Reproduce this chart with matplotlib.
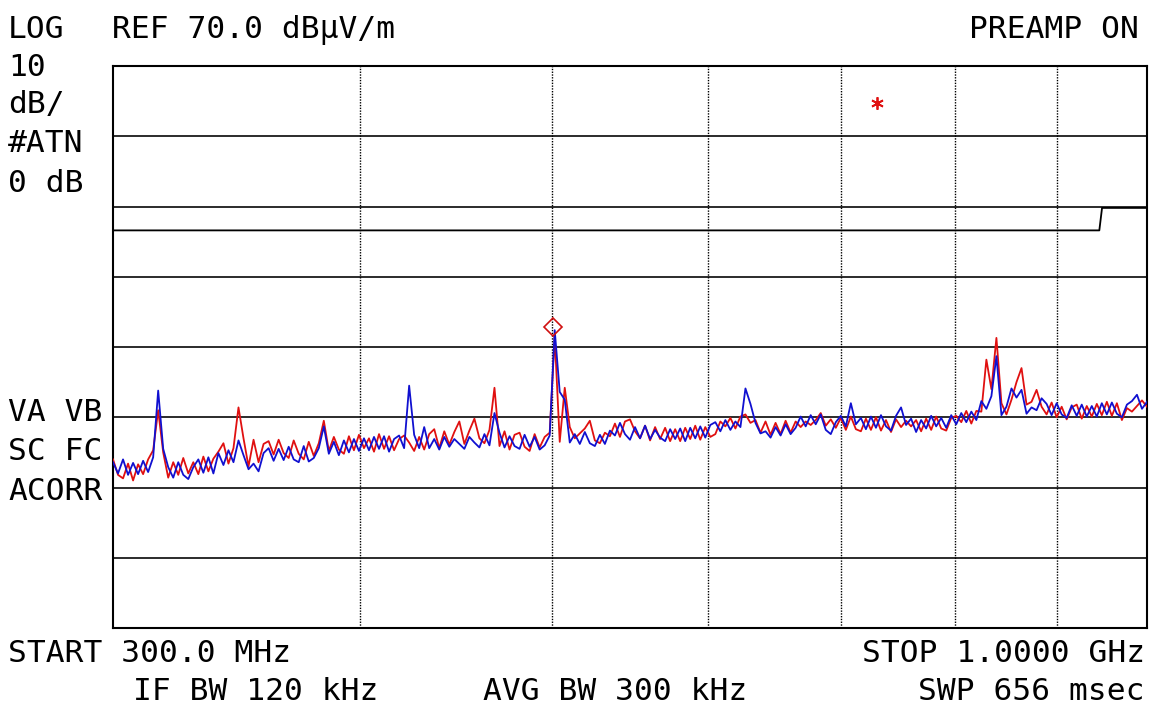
import numpy as np
import matplotlib
matplotlib.use("Agg")
import matplotlib.pyplot as plt

# ---- data ----
f_start, f_stop = 300.0, 1000.0          # MHz
ref_level, db_per_div, n_div = 70.0, 10.0, 8
vgrid_freqs = [400, 500, 600, 700, 800, 900]

trace_blue = [
    13.6, 12.0, 14.0, 11.8, 13.5, 11.9, 13.8, 12.2, 14.3,
    23.8, 15.5,
    12.9, 11.4, 13.6, 11.8, 11.2, 12.9,
    14.0, 12.1, 14.3, 12.0,
    14.9, 13.2, 15.3, 13.6,
    16.7, 14.6,
    12.6, 13.4, 12.3, 14.9,
    15.6, 13.8, 15.5, 13.9, 15.8, 14.0, 13.6, 15.9, 13.7, 14.2, 15.6,
    18.7,
    14.8, 16.5, 14.6, 16.7, 15.0, 16.9, 15.2, 17.0,
    15.3, 17.2, 15.5, 17.3, 15.1, 16.9, 17.4, 15.6,
    24.5, 17.5, 15.6, 18.6,
    15.6, 16.9, 15.4, 17.2, 15.8, 16.9,
    16.2, 15.5, 17.2, 16.4,
    15.7, 17.6, 16.0,
    20.6,
    17.8, 15.7, 17.3, 15.9, 15.5, 17.5, 15.8, 17.2, 15.4, 16.0, 17.4,
    32.4, 23.6, 22.5, 16.4,
    17.6, 16.2, 17.9, 16.3, 15.9, 17.5, 16.2,
    18.1, 17.4, 19.2, 17.6, 16.8,
    18.6, 17.0, 18.8, 16.9, 18.2, 17.1, 16.6, 18.3,
    16.9, 18.4, 16.6, 18.5, 17.0, 18.7, 17.1, 18.9,
    19.3, 18.0, 19.6, 18.2, 19.4, 18.6,
    24.1, 21.9,
    19.2, 17.7, 18.0, 17.1, 18.6, 17.4, 19.0, 17.6, 18.5,
    20.1, 18.7, 20.3, 19.0, 20.4, 18.2, 17.6, 19.3, 20.2,
    18.7, 22.0, 19.0,
    19.9, 18.3, 20.1, 18.5, 20.3, 18.7, 18.1, 20.2,
    21.4,
    18.9, 19.8, 17.9, 19.6, 18.4, 20.2, 18.7, 19.9, 18.5, 20.3, 19.0,
    20.6, 19.3, 20.8, 19.6,
    22.3, 21.2, 23.0, 28.7, 20.3, 21.5, 24.1, 22.8, 23.9, 20.5, 21.4, 21.0, 22.7,
    21.9, 20.3, 22.0, 20.4, 19.9, 21.7, 20.2, 21.8, 20.1,
    21.6, 20.1, 22.0, 20.4, 22.1, 20.5,
    20.0, 21.8, 22.3, 23.2, 21.2, 22.2,
]

trace_red = [
    14.0, 11.8, 11.3, 13.4, 11.0, 13.3, 11.9, 14.0, 15.3,
    21.0, 15.0,
    11.4, 13.6, 11.8, 14.2, 12.0, 13.6,
    11.9, 14.4, 12.3, 14.1,
    15.1, 16.3, 13.4, 15.6,
    21.4, 17.0,
    13.0, 16.8, 13.6, 16.2,
    16.6, 14.7, 16.8, 14.9, 14.2, 16.7, 14.8, 14.0, 16.5, 14.5, 16.3,
    19.5,
    15.2, 17.2, 15.4, 14.8, 17.3, 15.3, 17.5, 15.6,
    17.0, 15.1, 17.6, 15.5, 17.3, 15.3, 16.9, 17.4,
    16.4, 15.2, 17.2, 15.4,
    17.6, 18.3, 15.6, 18.0, 16.1, 17.9,
    19.4, 16.2, 18.1, 19.8,
    17.0, 16.3, 18.2,
    24.2,
    15.9, 18.0, 15.4, 17.5, 17.8, 15.8, 15.2, 17.6, 15.7, 17.2, 17.8,
    31.5, 16.5, 24.2, 18.6,
    17.0, 17.7, 18.4, 19.5, 16.7, 16.3, 17.8,
    17.3, 19.1, 17.2, 19.4, 19.7,
    18.0, 17.0, 18.8, 16.7, 18.6, 16.9, 18.5, 16.6,
    18.3, 16.6, 18.5, 16.9, 18.8, 16.8, 18.6, 17.2,
    17.6, 19.4, 18.7, 19.9, 18.4, 20.1,
    20.4, 19.2,
    19.6, 17.8, 19.4, 17.5, 19.2, 17.6, 19.5, 17.8, 19.4,
    18.6, 19.4, 18.9, 19.6, 20.6, 18.8, 19.7, 18.5, 19.9,
    18.2, 20.1, 18.3,
    18.0, 19.8, 18.2, 20.0, 18.1, 19.6, 17.9, 19.7,
    18.6,
    19.5, 18.7, 19.6, 18.0, 19.8, 18.2, 20.1, 18.4, 18.1, 19.9, 20.2,
    19.3, 20.9, 19.1, 20.9,
    20.8, 28.2, 24.0, 31.3, 22.0, 20.4, 22.5, 25.0, 27.0, 21.8, 22.2, 23.9, 21.5,
    20.4, 22.1, 20.0, 21.5, 19.7, 21.4, 21.8, 19.8, 21.6,
    20.1, 21.9, 20.3, 22.2, 20.2, 22.0,
    19.6, 21.3, 20.8, 21.6, 22.4, 21.5,
]

limit_freqs = [300, 946, 949, 1000]
limit_levels = [46.6, 46.6, 49.8, 49.8]

marker_freq, marker_level = 500.5, 32.8
star_freq, star_level = 730.0, 64.7

# ---- figure ----
W, H = 1149, 706
fig = plt.figure(figsize=(W / 100, H / 100), dpi=100)
fig.patch.set_facecolor("white")
ax = fig.add_axes([113 / W, 1 - 628 / H, 1034 / W, 562 / H])
ax.set_xscale("log")
bottom = ref_level - n_div * db_per_div
ax.set_xlim(f_start, f_stop)
ax.set_ylim(bottom, ref_level)
ax.set_xticks([]); ax.set_yticks([])
ax.xaxis.set_minor_locator(matplotlib.ticker.NullLocator())
for s in ax.spines.values():
    s.set_linewidth(1.5)
    s.set_color("black")

for k in range(1, n_div):
    ax.axhline(bottom + k * db_per_div, color="#1a1a1a", lw=1.3, zorder=1)
for fv in vgrid_freqs:
    ax.axvline(fv, color="black", lw=1.0, ls=(0, (1, 1)), zorder=1)

fr = np.geomspace(f_start, f_stop, len(trace_red))
fb = np.geomspace(f_start, f_stop, len(trace_blue))
ax.plot(fr, trace_red, color="#e01010", lw=1.3, zorder=3)
ax.plot(fb, trace_blue, color="#1010d0", lw=1.3, zorder=4)

ax.plot(limit_freqs, limit_levels, color="black", lw=1.3, zorder=2)

ax.plot([marker_freq], [marker_level], marker="D", ms=9, mfc="none",
        mec="#d01010", mew=1.2, zorder=5)
ax.plot([star_freq], [star_level], marker=(6, 2, 0), ms=9, mew=1.3,
        color="#e01010", zorder=5)

# ---- annotation texts ----
fs = 22.5
fam = "DejaVu Sans Mono"

def t(px, py, s, ha="left"):
    fig.text(px / W, 1 - py / H, s, ha=ha, va="center", fontsize=fs,
             family=fam, color="black")

t(8, 30, "LOG")
t(112, 30, "REF 70.0 dB\u03bcV/m")
t(1139, 30, "PREAMP ON", ha="right")
t(8, 67, "10")
t(8, 104, "dB/")
t(8, 143, "#ATN")
t(8, 183, "0 dB")
t(8, 413, "VA VB")
t(8, 452, "SC FC")
t(8, 491, "ACORR")
t(8, 653, "START 300.0 MHz")
t(1145, 653, "STOP 1.0000 GHz", ha="right")
t(133, 691, "IF BW 120 kHz")
t(483, 691, "AVG BW 300 kHz")
t(1145, 691, "SWP 656 msec", ha="right")

fig.savefig("out.png", dpi=100, facecolor="white")
